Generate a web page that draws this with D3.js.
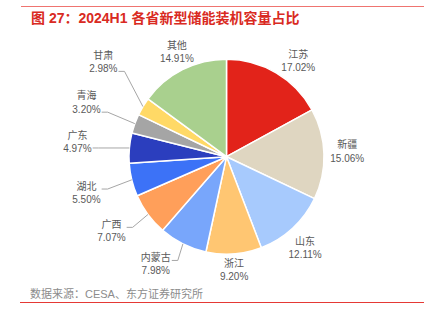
<!DOCTYPE html>
<html>
<head>
<meta charset="utf-8">
<script src="https://cdn.jsdelivr.net/npm/d3@7"></script>
<style>
  html, body { margin: 0; padding: 0; background: #fff; }
  svg { display: block; font-family: "Liberation Sans", Arial, "Noto Sans CJK SC", sans-serif; }
</style>
</head>
<body>
<svg id="chart" width="424" height="325"></svg>
<script>
// 2024H1 new-type energy storage installed capacity share by province (%)
const provinces = ["江苏", "新疆", "山东", "浙江", "内蒙古", "广西", "湖北", "广东", "青海", "甘肃", "其他"];
const shares = [17.02, 15.06, 12.11, 9.20, 7.98, 7.07, 5.50, 4.97, 3.20, 2.98, 14.91];
const sliceColors = ["#E2231A", "#DFD6C1", "#A7CAFD", "#FFC672", "#78A6FB", "#FF9F5A",
                     "#3C72F7", "#2B3EBE", "#A5A5A5", "#FFD966", "#A9D08E"];

// Label placement: shift of each label block away from its default outside-end spot
const labelNudge = [[11, 7], [4, -2], [-3, 3], [-1, 0], [-18, 2], [-19.5, 4],
                    [-27, 8.4], [-34.7, -4.2], [-29.7, -14.4], [-21.7, -34.1], [4, 1]];

const titleText = "图 27：2024H1 各省新型储能装机容量占比";
const sourceText = "数据来源：CESA、东方证券研究所";

const svg = d3.select("#chart");
const W = 424;
const cx = 226.5, cy = 156.7, R = 97.5;

// header rule and title
svg.append("line").attr("x1", 21).attr("x2", W).attr("y1", 6.5).attr("y2", 6.5)
  .attr("stroke", "#EF7470").attr("stroke-width", 1.2);
svg.append("text").attr("x", 31).attr("y", 18).attr("dominant-baseline", "central")
  .attr("font-size", 14).attr("font-weight", "bold").attr("fill", "#D92A22")
  .text(titleText);

const data = provinces.map((p, i) => ({ name: p, value: shares[i], color: sliceColors[i], nudge: labelNudge[i] }));

const pie = d3.pie().value(d => d.value).sort(null).startAngle(0).endAngle(2 * Math.PI);
const arc = d3.arc().innerRadius(0).outerRadius(R);
const arcs = pie(data);

const g = svg.append("g").attr("transform", `translate(${cx},${cy})`);
g.selectAll("path.slice").data(arcs).join("path")
  .attr("class", "slice")
  .attr("d", arc)
  .attr("fill", d => d.data.color)
  .attr("stroke", "#fff")
  .attr("stroke-width", 1.5)
  .attr("stroke-linejoin", "round");

// labels: name on first line, percentage on second
const fmt = d3.format(".2f");
const lineGap = 13.3, halfH = 13;
const measure = svg.append("text").attr("font-size", 10).attr("visibility", "hidden");
function textW(s) { measure.text(s); return measure.node().getComputedTextLength(); }

const lab = svg.append("g");
arcs.forEach(a => {
  const mid = (a.startAngle + a.endAngle) / 2;
  const s = Math.sin(mid), c = Math.cos(mid);
  const valStr = fmt(a.data.value) + "%";
  const w = Math.max(textW(a.data.name), textW(valStr));
  const d = R + 2 + Math.abs(s) * w / 2 + Math.abs(c) * halfH;
  const lx = cx + d * s + a.data.nudge[0];
  const ly = cy - d * c + a.data.nudge[1];

  lab.append("text").attr("x", lx).attr("y", ly - lineGap / 2)
    .attr("text-anchor", "middle").attr("dominant-baseline", "central")
    .attr("font-size", 10).attr("fill", "#595959").text(a.data.name);
  lab.append("text").attr("x", lx).attr("y", ly + lineGap / 2)
    .attr("text-anchor", "middle").attr("dominant-baseline", "central")
    .attr("font-size", 10).attr("fill", "#595959").text(valStr);

  // leader line for labels pulled well away from the slice
  const moved = Math.hypot(a.data.nudge[0], a.data.nudge[1]);
  if (moved > 15) {
    const ex = cx + R * s, ey = cy - R * c;
    const ax = lx + w / 2 + 1;
    const ay = Math.max(ly - lineGap / 2 + 3, Math.min(ly + lineGap / 2 + 3, ey));
    lab.append("path")
      .attr("d", `M${ax},${ay}H${ax + 6}L${ex},${ey}`)
      .attr("fill", "none").attr("stroke", "#A6A6A6").attr("stroke-width", 1);
  }
});
measure.remove();

// source note and footer rule
svg.append("text").attr("x", 30).attr("y", 293.5).attr("dominant-baseline", "central")
  .attr("font-size", 11).attr("fill", "#8C8C8C").text(sourceText);
svg.append("line").attr("x1", 20).attr("x2", W).attr("y1", 302.5).attr("y2", 302.5)
  .attr("stroke", "#E53935").attr("stroke-width", 1);
</script>
</body>
</html>
